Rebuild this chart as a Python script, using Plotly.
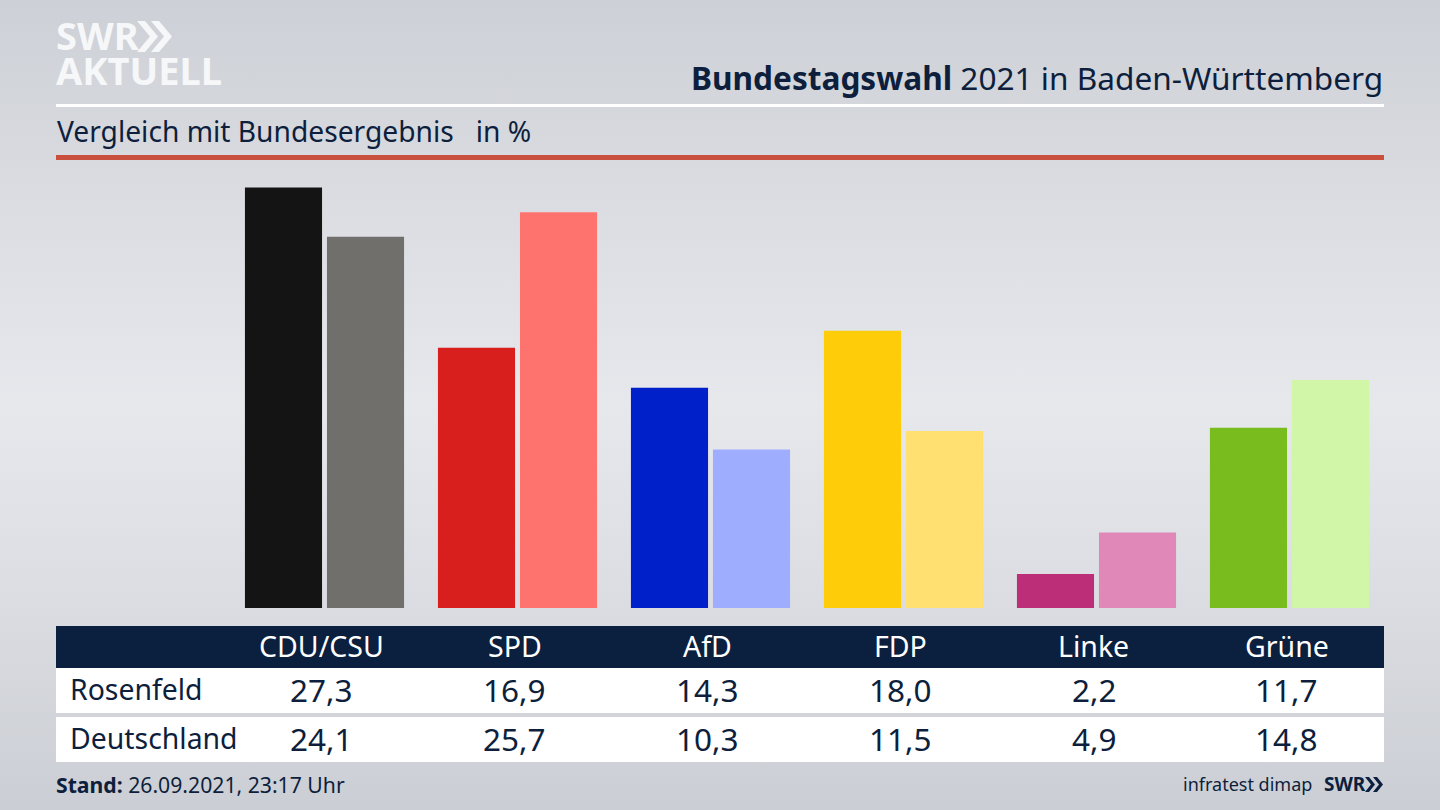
import plotly.graph_objects as go

W, H = 1440, 810

parties = ["CDU/CSU", "SPD", "AfD", "FDP", "Linke", "Grüne"]
rosenfeld = [27.3, 16.9, 14.3, 18.0, 2.2, 11.7]
deutschland = [24.1, 25.7, 10.3, 11.5, 4.9, 14.8]
rosenfeld_colors = ["#141414", "#d81f1d", "#0021c9", "#ffcc0a", "#bc2f78", "#78bc1e"]
deutschland_colors = ["#706f6c", "#ff736e", "#9fadff", "#ffe070", "#e088b8", "#d2f6a8"]

NAVY = "#0b1f3f"
TEXT = "#0d1f3c"
FONT = "Noto Sans"
LOGO = "#f6f7f8"


def px(x):
    return x / W


def py(y):
    return 1 - y / H


def comma(v):
    return f"{v:.1f}".replace(".", ",")


def label(x, y, text, size, color=TEXT, anchor="left"):
    return dict(x=px(x), y=py(y), xref="paper", yref="paper", text=text, showarrow=False,
                xanchor=anchor, yanchor="middle", font=dict(size=size, color=color, family=FONT))


def column_text(party, y, text, size, color):
    return dict(x=party, xref="x", y=py(y), yref="paper", text=text, showarrow=False, xshift=-3,
                xanchor="center", yanchor="middle", font=dict(size=size, color=color, family=FONT))


def band(y0, y1, color, x0=56, x1=1384):
    return dict(type="rect", xref="paper", yref="paper", x0=px(x0), x1=px(x1), y0=py(y1), y1=py(y0),
                fillcolor=color, line_width=0, layer="below")


def chevron(x, y0, y1, color, w, t):
    ym = (y0 + y1) / 2
    pts = [(x, y0), (x + t, y0), (x + t + w, ym), (x + t, y1), (x, y1), (x + w, ym)]
    path = "M " + " L ".join(f"{px(a):.5f},{py(b):.5f}" for a, b in pts) + " Z"
    return dict(type="path", xref="paper", yref="paper", path=path, fillcolor=color, line_width=0)


fig = go.Figure()
fig.add_bar(x=parties, y=rosenfeld, marker=dict(color=rosenfeld_colors, line_width=0), name="Rosenfeld")
fig.add_bar(x=parties, y=deutschland, marker=dict(color=deutschland_colors, line_width=0), name="Deutschland")

shapes = [
    band(104, 107, "#ffffff"),
    band(155, 160, "#c9503c"),
    band(626, 668, NAVY),
    band(668, 713, "#ffffff"),
    band(717, 762, "#ffffff"),
    chevron(137, 21, 52, LOGO, 13, 8),
    chevron(151, 21, 52, LOGO, 13, 8),
    chevron(1365, 777, 792, NAVY, 6, 4),
    chevron(1373, 777, 792, NAVY, 6, 4),
]

annotations = [
    label(54, 35, "<b>SWR</b>", 38, LOGO),
    label(54, 70, "<b>AKTUELL</b>", 38, LOGO),
    label(1385, 77, "<b>Bundestagswahl</b> 2021 in Baden-Württemberg", 31.6, anchor="right"),
    label(55, 131, "Vergleich mit Bundesergebnis   in %", 28.2),
    label(68, 689, "Rosenfeld", 28.4),
    label(68, 738, "Deutschland", 28.4),
    label(54, 784, "<b>Stand:</b> 26.09.2021, 23:17 Uhr", 21.2),
    label(1314, 784, "infratest dimap", 18, anchor="right"),
    label(1322, 784, "<b>SWR</b>", 19, NAVY),
]
for i, party in enumerate(parties):
    annotations.append(column_text(party, 646, party, 28.5, "#ffffff"))
    annotations.append(column_text(party, 689, comma(rosenfeld[i]), 31.5, TEXT))
    annotations.append(column_text(party, 738, comma(deutschland[i]), 31.5, TEXT))

fig.update_layout(
    width=W,
    height=H,
    margin=dict(l=0, r=0, t=0, b=0),
    paper_bgcolor="rgba(0,0,0,0)",
    plot_bgcolor="rgba(0,0,0,0)",
    barmode="group",
    bargap=0.15,
    bargroupgap=0.06,
    showlegend=False,
    shapes=shapes,
    annotations=annotations,
    xaxis=dict(domain=[px(228), px(1386)], showgrid=False, zeroline=False, showline=False,
               showticklabels=False, ticks=""),
    yaxis=dict(domain=[py(608), py(165)], range=[0, 443 / 15.4], visible=False),
)

# page background is a soft vertical gradient, figure itself stays transparent
page_css = ("document.documentElement.style.overflow='hidden';"
            "document.body.style.margin='0';"
            "document.body.style.background='linear-gradient(180deg,#cdd0d6 0%,#dcdee3 28%,#e6e8ec 50%,"
            "#dcdee3 72%,#cbced4 100%)';"
            "document.body.style.height='810px';")
fig.write_html("out.html", post_script=page_css, config=dict(displayModeBar=False))
